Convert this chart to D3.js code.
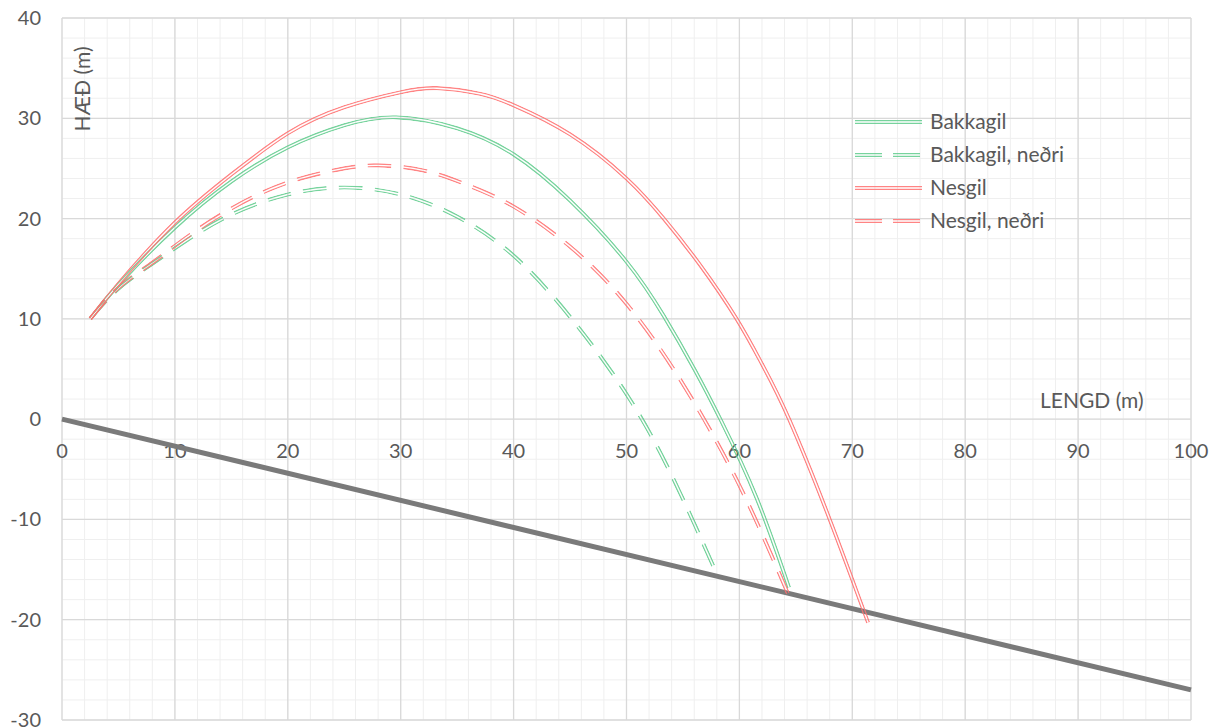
<!DOCTYPE html>
<html>
<head>
<meta charset="utf-8">
<script src="https://cdn.jsdelivr.net/npm/d3@7"></script>
<style>
  body { margin: 0; background: #fff; }
  svg text { font-family: Lato, "Open Sans", sans-serif; fill: #595959; }
</style>
</head>
<body>
<svg id="chart" width="1218" height="728"></svg>
<script>
// ---- data ----
const bakX = [2.5, 5, 10, 15, 20, 25, 29.6, 35, 40, 45, 50, 53.3, 56, 58.4, 61.5, 64.4];
const bakY = [10, 13.4, 19.1, 23.7, 27.1, 29.3, 30.1, 29.0, 26.4, 21.8, 15.7, 10.3, 5.0, -0.2, -7.8, -16.8];

const bakLowX = [2.5, 5, 8, 11, 15, 20, 25, 30, 35, 40, 45, 50, 54, 58.1];
const bakLowY = [10, 13.0, 15.5, 17.8, 20.4, 22.4, 23.1, 22.4, 20.2, 16.3, 10.2, 2.5, -5.6, -15.7];

const nesX = [2.5, 5, 10, 15, 20, 25, 30, 33.2, 37, 40, 45, 50, 53.3, 56.5, 59.75, 62, 64.4, 68, 71.4];
const nesY = [10, 13.5, 19.6, 24.4, 28.5, 31.1, 32.6, 33.0, 32.45, 31.3, 28.4, 24.0, 20.0, 15.4, 10.0, 5.5, 0, -10.0, -20.3];

const nesLowX = [2.5, 5, 8, 11, 15, 20, 25, 28, 32, 36, 40, 45, 50, 55, 60, 64.3];
const nesLowY = [10, 13.1, 15.6, 18.1, 21.0, 23.6, 25.0, 25.3, 24.8, 23.3, 21.2, 17.2, 11.5, 3.5, -6.6, -17.4];

const groundX = [0, 100];
const groundY = [0, -27];

const seriesNames = ['Bakkagil', 'Bakkagil, neðri', 'Nesgil', 'Nesgil, neðri'];
const xTicks = d3.range(0, 101, 10);
const yTicks = d3.range(-30, 41, 10);

// ---- setup ----
const svg = d3.select('#chart');
const x = d3.scaleLinear().domain([0, 100]).range([62, 1191]);
const y = d3.scaleLinear().domain([-30, 40]).range([720, 18]);

const green = '#5fcb8c', red = '#ff6f6f';
const series = [
	{name: seriesNames[0], xs: bakX, ys: bakY, color: green, dash: null},
	{name: seriesNames[1], xs: bakLowX, ys: bakLowY, color: green, dash: '24,12'},
	{name: seriesNames[2], xs: nesX, ys: nesY, color: red, dash: null},
	{name: seriesNames[3], xs: nesLowX, ys: nesLowY, color: red, dash: '24,12'}
];

// grid
const grid = svg.append('g');
grid.selectAll('line.mx').data(d3.range(0, 101, 2)).enter().append('line')
	.attr('x1', d => x(d)).attr('x2', d => x(d)).attr('y1', y(40)).attr('y2', y(-30))
	.attr('stroke', '#efefef').attr('stroke-width', 1);
grid.selectAll('line.my').data(d3.range(-30, 41, 2)).enter().append('line')
	.attr('y1', d => y(d)).attr('y2', d => y(d)).attr('x1', x(0)).attr('x2', x(100))
	.attr('stroke', '#efefef').attr('stroke-width', 1);
grid.selectAll('line.Mx').data(xTicks).enter().append('line')
	.attr('x1', d => x(d)).attr('x2', d => x(d)).attr('y1', y(40)).attr('y2', y(-30))
	.attr('stroke', '#d9d9d9').attr('stroke-width', 1.3);
grid.selectAll('line.My').data(yTicks).enter().append('line')
	.attr('y1', d => y(d)).attr('y2', d => y(d)).attr('x1', x(0)).attr('x2', x(100))
	.attr('stroke', '#d9d9d9').attr('stroke-width', 1.3);

// tick labels
svg.append('g').selectAll('text').data(yTicks).enter().append('text')
	.attr('x', 41).attr('y', d => y(d) + 7)
	.attr('text-anchor', 'end').style('font-size', '20px')
	.text(d => d);
svg.append('g').selectAll('text').data(xTicks).enter().append('text')
	.attr('x', d => x(d)).attr('y', y(0) + 39)
	.attr('text-anchor', 'middle').style('font-size', '20px')
	.text(d => d);

// axis titles
svg.append('text')
	.attr('transform', `translate(90,89) rotate(-90)`)
	.attr('text-anchor', 'middle').style('font-size', '21px')
	.text('HÆÐ (m)');
svg.append('text')
	.attr('x', 1040).attr('y', 408).style('font-size', '21px')
	.text('LENGD (m)');

// ground line
const line = d3.line().x(d => x(d[0])).y(d => y(d[1]));
svg.append('path')
	.attr('d', line(d3.zip(groundX, groundY)))
	.attr('fill', 'none').attr('stroke', '#7a7a7a').attr('stroke-width', 5);

// double (compound) lines: thick stroke with a transparent gap made by a mask
const curve = d3.line().x(d => x(d[0])).y(d => y(d[1])).curve(d3.curveNatural);
const defs = svg.append('defs');
const W = 4.2, GAP = 1.4;

function doubleLine(parent, d, color, dash, id) {
	const m = defs.append('mask').attr('id', id)
		.attr('maskUnits', 'userSpaceOnUse')
		.attr('x', 0).attr('y', 0).attr('width', 1218).attr('height', 728);
	m.append('path').attr('d', d).attr('fill', 'none')
		.attr('stroke', '#fff').attr('stroke-width', W)
		.attr('stroke-dasharray', dash);
	m.append('path').attr('d', d).attr('fill', 'none')
		.attr('stroke', '#000').attr('stroke-width', GAP);
	parent.append('path').attr('d', d).attr('fill', 'none')
		.attr('stroke', color).attr('stroke-width', W)
		.attr('stroke-dasharray', dash)
		.attr('stroke-opacity', 0.85)
		.attr('mask', `url(#${id})`);
}

const lines = svg.append('g');
series.forEach((s, i) => {
	doubleLine(lines, curve(d3.zip(s.xs, s.ys)), s.color, s.dash, 'm' + i);
});

// legend
const legend = svg.append('g');
series.forEach((s, i) => {
	const ly = 122 + i * 33;
	doubleLine(legend, `M855,${ly}L922,${ly}`, s.color, s.dash ? '27,11' : null, 'lm' + i);
	legend.append('text').attr('x', 930).attr('y', ly + 7)
		.style('font-size', '21px').text(s.name);
});
</script>
</body>
</html>
